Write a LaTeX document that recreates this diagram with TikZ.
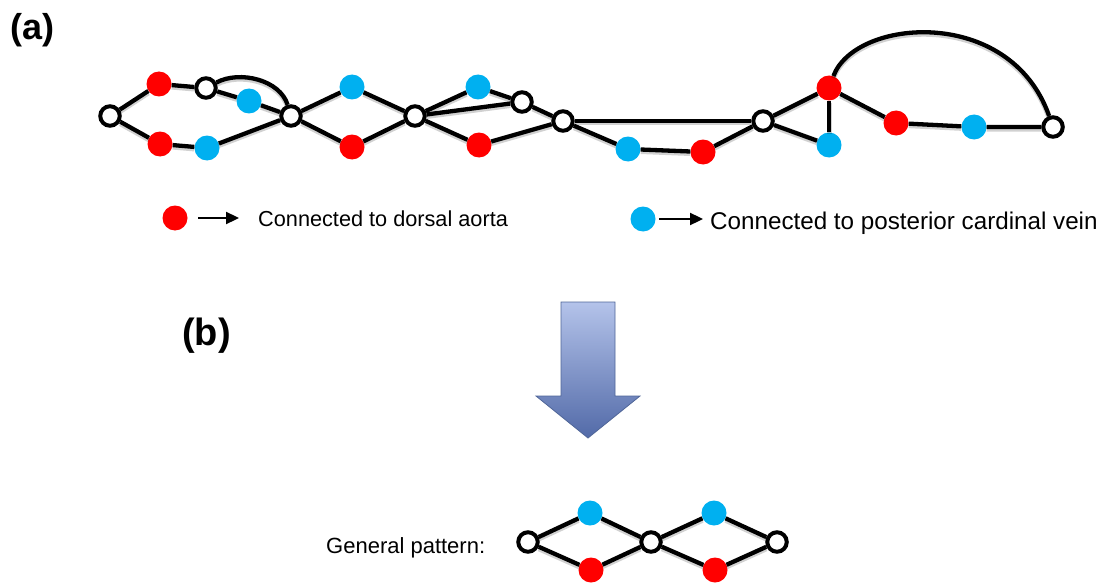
\documentclass[tikz,border=0pt]{standalone}
\usepackage{fontspec}
\setmainfont{Liberation Sans}
\usetikzlibrary{arrows.meta}
\definecolor{aorta}{RGB}{255,0,0}
\definecolor{vein}{RGB}{0,176,240}
\definecolor{arrowtop}{RGB}{180,195,234}
\definecolor{arrowbot}{RGB}{82,106,168}
\definecolor{arrowedge}{RGB}{80,102,152}

\begin{document}
\begin{tikzpicture}[x=1pt,y=-1pt,
  junction/.style={circle,draw=black,fill=white,line width=4pt,minimum size=19.5pt,inner sep=0pt},
  da/.style={circle,fill=aorta,minimum size=25pt,inner sep=0pt},
  pcv/.style={circle,fill=vein,minimum size=25pt,inner sep=0pt},
  vessel/.style={line width=4.3pt,black,
    preaction={draw=black,opacity=0.18,line width=5pt,transform canvas={yshift=-2pt}}},
  legendarrow/.style={line width=2.3pt,-{Triangle[length=13pt,width=12pt]}},
  panel/.style={inner sep=0pt,anchor=base west},
  caption/.style={inner sep=0pt}]

\useasboundingbox (0,0) rectangle (1102,583);

% panel labels
\node[panel,font=\fontsize{36}{42}\selectfont\bfseries] (la) at (10,39.5) {(a)};
\node[panel,font=\fontsize{38}{44}\selectfont\bfseries] (lb) at (182,345) {(b)};

% ---------- (a) observed network ----------
\node[junction] (W1) at (110,116) {};
\node[da]       (R1) at (159,84)  {};
\node[junction] (W2) at (206,88)  {};
\node[pcv]      (B1) at (249,101) {};
\node[da]       (R2) at (160,144) {};
\node[pcv]      (B2) at (207,148) {};
\node[junction] (W3) at (291,116) {};
\node[pcv]      (B3) at (352,87)  {};
\node[da]       (R3) at (352,147) {};
\node[junction] (W4) at (415,116) {};
\node[pcv]      (B4) at (478,87)  {};
\node[junction] (W5) at (522,102) {};
\node[da]       (R4) at (479,145) {};
\node[junction] (W6) at (563,121) {};
\node[pcv]      (B5) at (628,149) {};
\node[da]       (R5) at (703,152) {};
\node[junction] (W7) at (763,121) {};
\node[da]       (R6) at (829,88)  {};
\node[pcv]      (B6) at (829,145) {};
\node[da]       (R7) at (896,123) {};
\node[pcv]      (B7) at (974,127) {};
\node[junction] (W8) at (1053,127) {};

\draw[vessel] (W1) -- (R1) -- (W2);
\draw[vessel] (W1) -- (R2) -- (B2) -- (W3);
\draw[vessel] (W2) -- (B1) -- (W3);
\draw[vessel] (W2) .. controls (240,70) and (280,80) .. (W3);
\draw[vessel] (W3) -- (B3) -- (W4);
\draw[vessel] (W3) -- (R3) -- (W4);
\draw[vessel] (W4) -- (B4) -- (W5);
\draw[vessel] (W4) -- (W5);
\draw[vessel] (W4) -- (R4) -- (W6);
\draw[vessel] (W5) -- (W6);
\draw[vessel] (W6) -- (W7);
\draw[vessel] (W6) -- (B5) -- (R5) -- (W7);
\draw[vessel] (W7) -- (R6);
\draw[vessel] (W7) -- (B6);
\draw[vessel] (R6) -- (B6);
\draw[vessel] (R6) -- (R7) -- (B7) -- (W8);
\draw[vessel] (R6) .. controls (855,18) and (1010,5) .. (W8);

% ---------- legend ----------
\node[da]  (keyda)  at (175,218) {};
\coordinate (kda1) at (198,218);
\coordinate (kda2) at (239,218);
\draw[legendarrow] (kda1) -- (kda2);
\node[caption,anchor=west,font=\fontsize{21.7}{26}\selectfont] (tda) at (258,219) {Connected to dorsal aorta};

\node[pcv] (keypcv) at (643,219) {};
\coordinate (kpcv1) at (659,219);
\coordinate (kpcv2) at (703,219);
\draw[legendarrow] (kpcv1) -- (kpcv2);
\node[caption,anchor=base west,font=\fontsize{24.2}{29}\selectfont] (tpcv) at (710,229) {Connected to posterior cardinal vein};

% ---------- block arrow ----------
\shade[top color=arrowtop,bottom color=arrowbot,draw=arrowedge,line width=0.8pt]
  (561,302) -- (615,302) -- (615,396) -- (640,396) -- (588,438) -- (536,396) -- (561,396) -- cycle;

% ---------- (b) general pattern ----------
\node[caption,anchor=base west,font=\fontsize{22}{26}\selectfont] (tgp) at (326,553) {General pattern:};
\node[junction] (P1) at (528,542) {};
\node[pcv]      (P2) at (590,513) {};
\node[da]       (P3) at (591,570) {};
\node[junction] (P4) at (651,542) {};
\node[pcv]      (P5) at (714,513) {};
\node[da]       (P6) at (715,570) {};
\node[junction] (P7) at (777,542) {};

\draw[vessel] (P1) -- (P2) -- (P4);
\draw[vessel] (P1) -- (P3) -- (P4);
\draw[vessel] (P4) -- (P5) -- (P7);
\draw[vessel] (P4) -- (P6) -- (P7);

\end{tikzpicture}
\end{document}
